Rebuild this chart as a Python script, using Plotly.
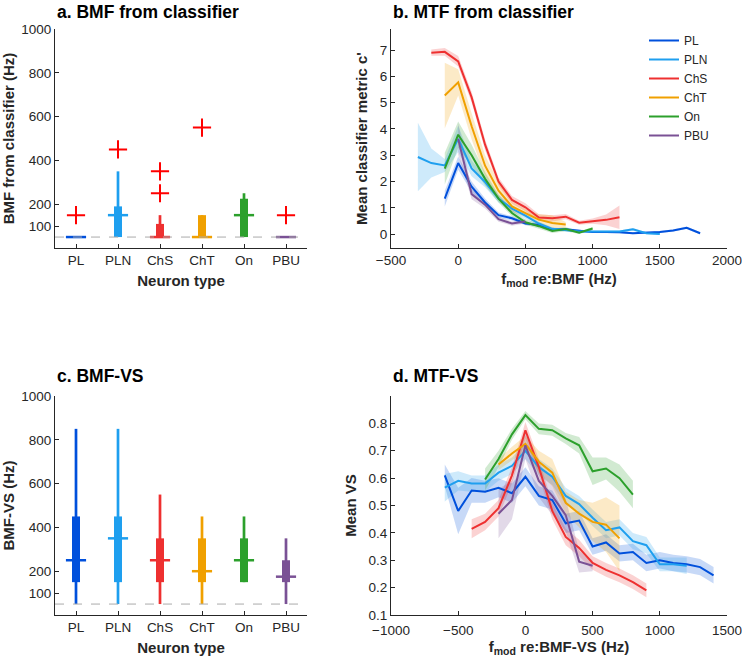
import plotly.graph_objects as go

# ---------------- data ----------------
types = ["PL", "PLN", "ChS", "ChT", "On", "PBU"]
colors = ["#0050DC", "#1E9FEF", "#EE3030", "#F0A000", "#2CA02C", "#7A5195"]

# panel a: BMF from classifier (boxplot summaries)
a_wlo = [50, 50, 50, 50, 50, 50]
a_whi = [50, 350, 150, 150, 250, 50]
a_q1 = [50, 50, 50, 50, 50, 50]
a_q3 = [50, 190, 110, 150, 225, 50]
a_med = [50, 150, 50, 50, 150, 50]
a_out_x = ["PL", "PLN", "ChS", "ChS", "ChT", "PBU"]
a_out_y = [150, 450, 250, 350, 550, 150]

# panel c: BMF-VS
c_wlo = [50, 50, 50, 50, 150, 50]
c_whi = [850, 850, 550, 450, 450, 350]
c_q1 = [150, 150, 150, 150, 150, 150]
c_q3 = [450, 450, 350, 350, 350, 250]
c_med = [250, 350, 250, 200, 250, 175]

# panel b: MTF from classifier (mean, sem)
b_x = {
    "PL": list(range(-100, 1801, 100)),
    "PLN": list(range(-300, 1501, 100)),
    "ChS": list(range(-200, 1201, 100)),
    "ChT": list(range(-100, 801, 100)),
    "On": list(range(-100, 1001, 100)),
    "PBU": list(range(0, 501, 100)),
}
b_mean = {
    "PL": [1.35, 2.7, 1.8, 1.2, 0.72, 0.6, 0.4, 0.35, 0.17, 0.18, 0.13, 0.08, 0.08, 0.07, 0.03, 0.05, 0.08, 0.14, 0.24, 0.03],
    "PLN": [2.93, 2.7, 2.61, 3.62, 2.5, 1.98, 1.35, 0.97, 0.7, 0.4, 0.2, 0.15, 0.1, 0.1, 0.1, 0.1, 0.18, 0.03, 0.0],
    "ChS": [6.9, 6.93, 6.57, 5.2, 3.4, 2.0, 1.3, 1.02, 0.63, 0.6, 0.66, 0.43, 0.49, 0.54, 0.64],
    "ChT": [5.27, 5.77, 4.1, 2.6, 1.65, 1.05, 0.8, 0.55, 0.42, 0.36],
    "On": [2.49, 3.78, 3.0, 2.1, 1.35, 0.8, 0.45, 0.3, 0.12, 0.19, 0.05, 0.21],
    "PBU": [3.62, 1.52, 1.12, 0.57, 0.4, 0.48],
}
b_sem = {
    "PL": [0.3, 0.25, 0.2, 0.15, 0.1, 0.08, 0.06, 0.05, 0.05, 0.05, 0.04, 0.04, 0.04, 0.04, 0.04, 0.04, 0.04, 0.04, 0.05, 0.05],
    "PLN": [1.3, 0.55, 0.25, 0.5, 0.3, 0.2, 0.15, 0.12, 0.1, 0.08, 0.06, 0.05, 0.04, 0.04, 0.04, 0.04, 0.05, 0.04, 0.04],
    "ChS": [0.12, 0.15, 0.2, 0.2, 0.2, 0.15, 0.15, 0.15, 0.12, 0.12, 0.1, 0.08, 0.1, 0.2, 0.45],
    "ChT": [1.25, 0.5, 0.5, 0.4, 0.3, 0.2, 0.15, 0.2, 0.3, 0.1],
    "On": [0.6, 0.5, 0.4, 0.25, 0.15, 0.12, 0.1, 0.1, 0.08, 0.08, 0.05, 0.06],
    "PBU": [0.6, 0.2, 0.15, 0.1, 0.08, 0.08],
}

# panel d: MTF-VS (mean, sem)
d_x = {
    "PL": list(range(-600, 1401, 100)),
    "PLN": list(range(-600, 1201, 100)),
    "ChS": list(range(-400, 901, 100)),
    "ChT": list(range(-200, 701, 100)),
    "On": list(range(-300, 801, 100)),
    "PBU": list(range(-200, 501, 100)),
}
d_mean = {
    "PL": [0.61, 0.48, 0.555, 0.55, 0.565, 0.545, 0.605, 0.535, 0.52, 0.435, 0.445, 0.35, 0.365, 0.325, 0.33, 0.29, 0.30, 0.29, 0.285, 0.275, 0.245],
    "PLN": [0.565, 0.59, 0.58, 0.58, 0.62, 0.645, 0.70, 0.64, 0.605, 0.535, 0.505, 0.455, 0.41, 0.42, 0.37, 0.355, 0.285, 0.285, 0.28],
    "ChS": [0.415, 0.44, 0.49, 0.61, 0.775, 0.64, 0.48, 0.385, 0.345, 0.29, 0.265, 0.245, 0.22, 0.19],
    "ChT": [0.65, 0.69, 0.725, 0.66, 0.62, 0.51, 0.47, 0.44, 0.43, 0.38],
    "On": [0.595, 0.67, 0.76, 0.83, 0.78, 0.775, 0.745, 0.72, 0.625, 0.635, 0.60, 0.54],
    "PBU": [0.47, 0.52, 0.72, 0.59, 0.535, 0.465, 0.295, 0.28],
}
d_sem = {
    "PL": [0.04, 0.085, 0.045, 0.04, 0.035, 0.035, 0.035, 0.035, 0.035, 0.035, 0.035, 0.03, 0.03, 0.03, 0.03, 0.03, 0.03, 0.03, 0.03, 0.03, 0.03],
    "PLN": [0.05, 0.035, 0.03, 0.03, 0.03, 0.03, 0.03, 0.03, 0.03, 0.03, 0.03, 0.03, 0.03, 0.03, 0.03, 0.03, 0.025, 0.025, 0.03],
    "ChS": [0.035, 0.03, 0.03, 0.03, 0.03, 0.03, 0.03, 0.03, 0.03, 0.025, 0.025, 0.025, 0.025, 0.025],
    "ChT": [0.02, 0.025, 0.03, 0.04, 0.05, 0.04, 0.05, 0.07, 0.1, 0.12],
    "On": [0.04, 0.03, 0.02, 0.015, 0.02, 0.02, 0.02, 0.03, 0.05, 0.04, 0.05, 0.05],
    "PBU": [0.09, 0.07, 0.05, 0.06, 0.07, 0.06, 0.04, 0.02],
}

# ---------------- figure ----------------
W, H = 742, 663
FONT = "Liberation Sans, Arial, sans-serif"
AX = "#262626"


def hexrgba(h, a):
    h = h.lstrip("#")
    r, g, b = int(h[0:2], 16), int(h[2:4], 16), int(h[4:6], 16)
    return f"rgba({r},{g},{b},{a})"


fig = go.Figure()


def add_box(xa, ya, wlo, whi, q1, q3, med):
    for i, t in enumerate(types):
        xi = i + 1
        c = colors[i]
        fig.add_trace(go.Scatter(x=[xi, xi], y=[wlo[i], whi[i]], mode="lines",
                                 line=dict(color=c, width=2.7), xaxis=xa, yaxis=ya,
                                 showlegend=False, hoverinfo="skip"))
        fig.add_trace(go.Scatter(x=[xi, xi], y=[q1[i], q3[i]], mode="lines",
                                 line=dict(color=c, width=8), xaxis=xa, yaxis=ya,
                                 showlegend=False, hoverinfo="skip"))
        fig.add_trace(go.Scatter(x=[xi - 0.24, xi + 0.24], y=[med[i], med[i]], mode="lines",
                                 line=dict(color=c, width=2.5), xaxis=xa, yaxis=ya,
                                 showlegend=False, hoverinfo="skip"))


add_box("x", "y", a_wlo, a_whi, a_q1, a_q3, a_med)
fig.add_trace(go.Scatter(x=[types.index(t) + 1 for t in a_out_x], y=a_out_y, mode="markers",
                         marker=dict(symbol="cross-thin", size=13, line=dict(color="#FF0000", width=2)),
                         xaxis="x", yaxis="y", showlegend=False))
add_box("x3", "y3", c_wlo, c_whi, c_q1, c_q3, c_med)


def add_mtf(xa, ya, xs, means, sems, legend):
    for i, t in enumerate(types):
        x = xs[t]
        m = means[t]
        s = sems[t]
        up = [a + b for a, b in zip(m, s)]
        lo = [a - b for a, b in zip(m, s)]
        fig.add_trace(go.Scatter(x=x + x[::-1], y=up + lo[::-1], fill="toself",
                                 fillcolor=hexrgba(colors[i], 0.22), line=dict(width=0),
                                 mode="lines", xaxis=xa, yaxis=ya, showlegend=False,
                                 hoverinfo="skip"))
    for i, t in enumerate(types):
        fig.add_trace(go.Scatter(x=xs[t], y=means[t], mode="lines", name=t,
                                 line=dict(color=colors[i], width=2), xaxis=xa, yaxis=ya,
                                 showlegend=legend))


add_mtf("x2", "y2", b_x, b_mean, b_sem, True)
add_mtf("x4", "y4", d_x, d_mean, d_sem, False)


def px_x(a, b):
    return [a / W, b / W]


def px_y(top, bot):
    return [1 - bot / H, 1 - top / H]


tickfont = dict(family=FONT, size=13.5, color=AX)
titlefont = dict(family=FONT, size=15, color=AX, weight="bold")
common = dict(showline=True, linecolor=AX, linewidth=1, ticks="inside", ticklen=4,
              tickcolor=AX, showgrid=False, zeroline=False, tickfont=tickfont, mirror=False,
              automargin=False, ticklabeloverflow="allow")

fig.update_layout(
    template="none",
    width=W, height=H, margin=dict(l=0, r=0, t=0, b=0, autoexpand=False),
    plot_bgcolor="white", paper_bgcolor="white",
    xaxis=dict(domain=px_x(55, 307), range=[0.5, 6.5], tickvals=[1, 2, 3, 4, 5, 6], ticktext=types,
               title=dict(text="Neuron type", font=titlefont, standoff=8), anchor="y", **common),
    yaxis=dict(domain=px_y(29, 248), range=[0, 1000], tickvals=[100, 200, 400, 600, 800, 1000],
               title=dict(text="BMF from classifier (Hz)", font=titlefont, standoff=6), anchor="x", **common),
    xaxis2=dict(domain=px_x(391, 727), range=[-500, 2000], tickvals=[-500, 0, 500, 1000, 1500, 2000],
                title=dict(text="f<sub>mod</sub> re:BMF (Hz)", font=titlefont, standoff=6), anchor="y2", **common),
    yaxis2=dict(domain=px_y(29, 248), range=[-0.53, 7.8], tickvals=[0, 1, 2, 3, 4, 5, 6, 7],
                title=dict(text="Mean classifier metric c'", font=titlefont, standoff=8), anchor="x2", **common),
    xaxis3=dict(domain=px_x(55, 307), range=[0.5, 6.5], tickvals=[1, 2, 3, 4, 5, 6], ticktext=types,
                title=dict(text="Neuron type", font=titlefont, standoff=8), anchor="y3", **common),
    yaxis3=dict(domain=px_y(396, 615), range=[0, 1000], tickvals=[100, 200, 400, 600, 800, 1000],
                title=dict(text="BMF-VS (Hz)", font=titlefont, standoff=6), anchor="x3", **common),
    xaxis4=dict(domain=px_x(391, 727), range=[-1000, 1500], tickvals=[-1000, -500, 0, 500, 1000, 1500],
                ticklabelstandoff=3,
                title=dict(text="f<sub>mod</sub> re:BMF-VS (Hz)", font=titlefont, standoff=4), anchor="y4", **common),
    yaxis4=dict(domain=px_y(396, 615), range=[0.1, 0.9], tickvals=[0.1, 0.2, 0.3, 0.4, 0.5, 0.6, 0.7, 0.8],
                title=dict(text="Mean VS", font=titlefont, standoff=8), anchor="x4", **common),
    legend=dict(x=644 / W, y=1 - 26 / H, xanchor="left", yanchor="top", bgcolor="rgba(0,0,0,0)",
                font=dict(family=FONT, size=12, color=AX), tracegroupgap=0),
    showlegend=True,
)

for xr, yr in [("x domain", "y"), ("x3 domain", "y3")]:
    fig.add_shape(type="line", xref=xr, yref=yr, x0=0, x1=1, y0=50, y1=50,
                  line=dict(color="#AAAAAA", width=1, dash="dash"))

titles = [("a. BMF from classifier", 55, 12), ("b. MTF from classifier", 391, 12),
          ("c. BMF-VS", 55, 376), ("d. MTF-VS", 391, 376)]
for txt, xp, yp in titles:
    fig.add_annotation(text=txt, x=xp / W, y=1 - yp / H, xref="paper", yref="paper",
                       xanchor="left", yanchor="middle", showarrow=False,
                       font=dict(family=FONT, size=17.5, color="black", weight="bold"))

fig.write_html("out.html")
